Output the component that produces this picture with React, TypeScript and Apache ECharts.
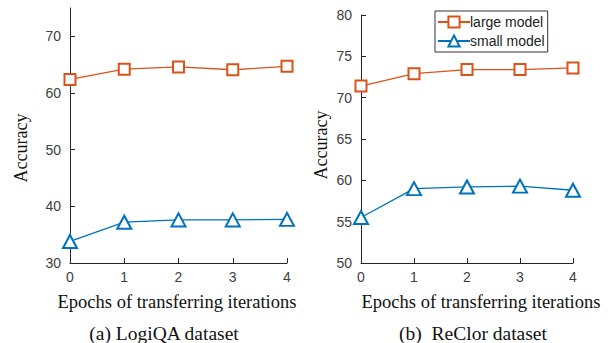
import React, { useEffect, useRef } from "react";
import * as echarts from "echarts";

const epochs = [0, 1, 2, 3, 4];
const logiqaLarge = [62.4, 64.2, 64.6, 64.1, 64.7];
const logiqaSmall = [33.8, 37.2, 37.6, 37.6, 37.7];
const reclorLarge = [71.4, 72.9, 73.4, 73.4, 73.6];
const reclorSmall = [55.5, 59.0, 59.2, 59.3, 58.8];
const logiqaTicks = [30, 40, 50, 60, 70];
const reclorTicks = [50, 55, 60, 65, 70, 75, 80];
const seriesNames = ["large model", "small model"];
const xName = "Epochs of transferring iterations";
const yName = "Accuracy";
const captions = ["(a) LogiQA dataset", "(b)  ReClor dataset"];

const ORANGE = "#D95319";
const BLUE = "#0072BD";
const AX = "#262626";
const SANS = "Liberation Sans";
const SERIF = "Liberation Serif";

export default function App() {
  const ref = useRef<HTMLDivElement>(null);
  useEffect(() => {
    const chart = echarts.init(ref.current!, null, { renderer: "svg" });
    const xAxisBase = (gi: number) => ({
      type: "value",
      gridIndex: gi,
      min: 0,
      max: 4,
      interval: 1,
      axisLine: { lineStyle: { color: AX, width: 1 } },
      axisTick: { inside: true, length: 5, lineStyle: { color: AX } },
      axisLabel: { color: "#404040", fontFamily: SANS, fontSize: 14, margin: 7 },
      splitLine: { show: false },
    });
    const yAxisBase = (gi: number, min: number, max: number, ticks: number[]) => ({
      type: "value",
      gridIndex: gi,
      min,
      max,
      interval: ticks[1] - ticks[0],
      axisLine: { show: true, lineStyle: { color: AX, width: 1 } },
      axisTick: { show: true, inside: true, length: 5, lineStyle: { color: AX }, customValues: ticks },
      axisLabel: { color: "#404040", fontFamily: SANS, fontSize: 14, margin: 9, customValues: ticks },
      splitLine: { show: false },
    });
    const mk = (name: string, gi: number, data: number[], color: string, sym: string, size: any) => ({
      type: "line",
      name,
      xAxisIndex: gi,
      yAxisIndex: gi,
      data: epochs.map((e, i) => [e, data[i]]),
      symbol: sym,
      symbolSize: size,
      showAllSymbol: true,
      lineStyle: { color, width: 1.3 },
      itemStyle: { color, borderColor: color, borderWidth: 1.5 },
      z: 3,
    });
    const txt = (text: string, x: number, y: number, size: number, rot = 0) => ({
      type: "text",
      x,
      y,
      rotation: rot,
      style: { text, fontFamily: SERIF, fontSize: size, fill: "#111", align: "center", verticalAlign: "middle" },
    });
    chart.setOption({
      animation: false,
      grid: [
        { left: 70, right: 323, top: 8, bottom: 80 },
        { left: 361, right: 37, top: 15, bottom: 80 },
      ],
      xAxis: [xAxisBase(0), xAxisBase(1)],
      yAxis: [yAxisBase(0, 30, 75, logiqaTicks), yAxisBase(1, 50, 80, reclorTicks)],
      legend: {
        show: true,
        data: seriesNames,
        orient: "vertical",
        left: 435,
        top: 11,
        padding: [4, 3, 4, 2],
        itemGap: 5,
        itemWidth: 32,
        itemHeight: 14,
        borderColor: "#333",
        borderWidth: 1,
        backgroundColor: "#fff",
        textStyle: { fontFamily: SANS, fontSize: 14, color: "#222", padding: [0, 0, 0, -5] },
      },
      series: [
        mk(seriesNames[0], 0, logiqaLarge, ORANGE, "emptyRect", 11),
        mk(seriesNames[1], 0, logiqaSmall, BLUE, "emptyTriangle", [14, 13]),
        mk(seriesNames[0], 1, reclorLarge, ORANGE, "emptyRect", 11),
        mk(seriesNames[1], 1, reclorSmall, BLUE, "emptyTriangle", [14, 13]),
      ],
      graphic: [
        txt(yName, 21, 148, 18, Math.PI / 2),
        txt(yName, 321, 145, 18, Math.PI / 2),
        txt(xName, 177, 302, 18.5),
        txt(xName, 481, 302, 18.5),
        txt(captions[0], 164, 333, 19.5),
        txt(captions[1], 473, 333, 19.5),
      ],
    });
    return () => chart.dispose();
  }, []);
  return <div ref={ref} style={{ width: 610, height: 343, position: "absolute", left: 0, top: 0, background: "#fff" }} />;
}
